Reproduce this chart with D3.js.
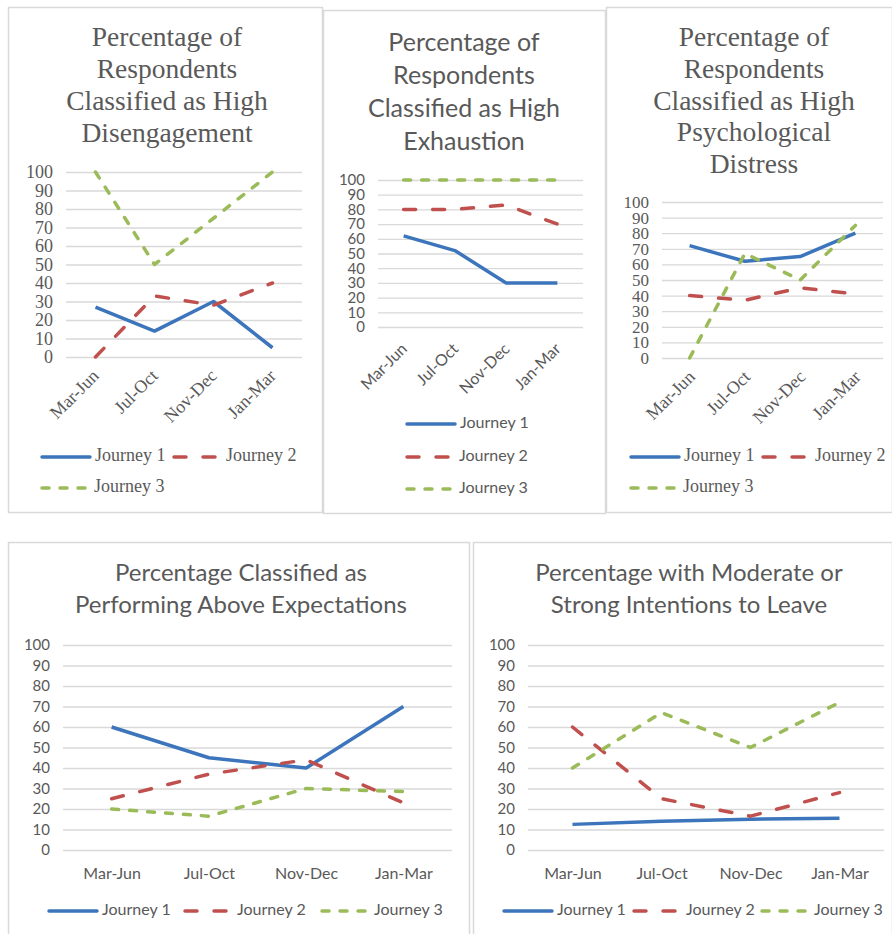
<!DOCTYPE html>
<html>
<head>
<meta charset="utf-8">
<script src="https://cdn.jsdelivr.net/npm/d3@7"></script>
<style>
  body { margin: 0; background: #fff; }
  svg { display: block; }
</style>
</head>
<body>
<div id="chart"></div>
<script>
// categories and series
var periods = ["Mar-Jun", "Jul-Oct", "Nov-Dec", "Jan-Mar"];
var seriesNames = ["Journey 1", "Journey 2", "Journey 3"];
var yTicks = [0, 10, 20, 30, 40, 50, 60, 70, 80, 90, 100];

// values per series (Journey 1, 2, 3)
var disengagement = [[27, 14, 30, 5], [0, 33, 28, 40], [100, 50, 75, 100]];
var exhaustion = [[62, 52, 30, 30], [80, 80, 83, 70], [100, 100, 100, 100]];
var distress = [[72, 62, 65, 80], [40, 37, 45, 41], [0, 67, 50, 85]];
var aboveExpect = [[60, 45, 40, 70], [25, 37, 44, 23], [20, 16.5, 30, 28.5]];
var intentLeave = [[12.5, 14, 15, 15.5], [60, 25, 16.5, 28], [40, 67, 50, 72]];

var colors = ["#3C75BB", "#C0504D", "#9BBB59"];
var dashes = [null, "12,17", "7,11"];
var serif = "'Liberation Serif', serif";
var sans = "Lato, 'Open Sans', sans-serif";

var width = 892, height = 934;

var svg = d3.select("#chart").append("svg")
    .attr("width", width)
    .attr("height", height);

var panels = [
    {
        data: disengagement, font: serif,
        box: [8, 7, 314, 505],
        title: ["Percentage of", "Respondents", "Classified as High", "Disengagement"],
        titleX: 167, titleY: 40, titleSize: 27.5, titleStep: 32,
        plot: [66, 302, 357, 172], tickSize: 18, labelSize: 18,
        rotate: [-0.5, 15.5],
        legend: [[40, 457], [172, 457], [40, 488]]
    },
    {
        data: exhaustion, font: sans,
        box: [323, 10, 282, 503],
        title: ["Percentage of", "Respondents", "Classified as High", "Exhaustion"],
        titleX: 464, titleY: 45, titleSize: 25, titleStep: 33,
        plot: [378, 583, 327, 180], tickSize: 15, labelSize: 16,
        rotate: [0, 19],
        legend: [[405, 424], [405, 457], [405, 489]]
    },
    {
        data: distress, font: serif,
        box: [606, 7, 286, 505],
        title: ["Percentage of", "Respondents", "Classified as High", "Psychological", "Distress"],
        titleX: 754, titleY: 40, titleSize: 27.5, titleStep: 31.7,
        plot: [662, 883, 358, 202], tickSize: 17, labelSize: 18,
        rotate: [1.5, 15.5],
        legend: [[629, 457], [761, 457], [629, 488]]
    },
    {
        data: aboveExpect, font: sans,
        box: [8, 542, 461, 400],
        title: ["Percentage Classified as", "Performing Above Expectations"],
        titleX: 241, titleY: 575, titleSize: 24, titleStep: 32,
        plot: [63, 452, 850, 645], tickSize: 15, labelSize: 16,
        rotate: null,
        legend: [[47, 911], [183, 911], [320, 911]]
    },
    {
        data: intentLeave, font: sans,
        box: [473, 542, 419, 400],
        title: ["Percentage with Moderate or", "Strong Intentions to Leave"],
        titleX: 689, titleY: 575, titleSize: 24, titleStep: 32,
        plot: [528, 884, 850, 645], tickSize: 15, labelSize: 16,
        rotate: null,
        legend: [[502, 911], [632, 911], [760, 911]]
    }
];

panels.forEach(drawPanel);

function drawPanel(p) {
    var g = svg.append("g");

    // panel frame
    g.append("rect")
        .attr("x", p.box[0] + 0.5)
        .attr("y", p.box[1] + 0.5)
        .attr("width", p.box[2])
        .attr("height", p.box[3])
        .attr("fill", "#fff")
        .attr("stroke", "#D9D9D9")
        .attr("stroke-width", 1.5);

    // title
    g.selectAll(".title")
        .data(p.title)
        .enter()
        .append("text")
        .attr("class", "title")
        .attr("x", p.titleX)
        .attr("y", function (d, i) { return p.titleY + i * p.titleStep; })
        .attr("text-anchor", "middle")
        .attr("dominant-baseline", "middle")
        .style("font-family", p.font)
        .style("font-size", p.titleSize + "px")
        .style("fill", "#595959")
        .text(function (d) { return d; });

    var x = d3.scalePoint()
        .domain(periods)
        .range([p.plot[0], p.plot[1]])
        .padding(0.5);

    var y = d3.scaleLinear()
        .domain([0, 100])
        .range([p.plot[2], p.plot[3]]);

    // gridlines + y labels
    var yAxis = g.append("g")
        .attr("transform", "translate(" + p.plot[0] + ",0)")
        .call(d3.axisLeft(y)
            .tickValues(yTicks)
            .tickSize(-(p.plot[1] - p.plot[0]))
            .tickPadding(13));

    yAxis.select(".domain").remove();
    yAxis.selectAll("line")
        .attr("stroke", "#D9D9D9")
        .attr("stroke-width", 1.3);
    yAxis.selectAll("text")
        .style("font-family", p.font)
        .style("font-size", p.tickSize + "px")
        .style("fill", "#595959");

    // x labels
    var xAxis = g.append("g")
        .attr("transform", "translate(0," + p.plot[2] + ")")
        .call(d3.axisBottom(x).tickSize(0).tickPadding(18));

    xAxis.select(".domain").remove();
    var xl = xAxis.selectAll("text")
        .style("font-family", p.font)
        .style("font-size", p.labelSize + "px")
        .style("fill", "#595959");

    if (p.rotate) {
        xl.attr("text-anchor", "end")
            .attr("y", 0)
            .attr("dy", "0.35em")
            .attr("transform", "translate(" + p.rotate[0] + "," + p.rotate[1] + ") rotate(-45)");
    }

    // series lines
    var line = d3.line()
        .x(function (d, i) { return x(periods[i]); })
        .y(function (d) { return y(d); });

    p.data.forEach(function (vals, s) {
        g.append("path")
            .datum(vals)
            .attr("d", line)
            .attr("fill", "none")
            .attr("stroke", colors[s])
            .attr("stroke-width", 3.5)
            .attr("stroke-linecap", s === 0 ? "butt" : "round")
            .attr("stroke-linejoin", "round")
            .attr("stroke-dasharray", dashes[s]);
    });

    // legend
    var leg = g.selectAll(".legend")
        .data(seriesNames)
        .enter()
        .append("g")
        .attr("class", "legend")
        .attr("transform", function (d, i) {
            return "translate(" + p.legend[i][0] + "," + p.legend[i][1] + ")";
        });

    leg.append("line")
        .attr("x1", 2)
        .attr("x2", function (d, i) { return i === 0 ? 50 : 46; })
        .attr("y1", 0)
        .attr("y2", 0)
        .attr("stroke", function (d, i) { return colors[i]; })
        .attr("stroke-width", 3.5)
        .attr("stroke-linecap", "round")
        .attr("stroke-dasharray", function (d, i) { return dashes[i]; });

    leg.append("text")
        .attr("x", function (d, i) { return i === 0 ? 55 : 54; })
        .attr("y", 0)
        .attr("dominant-baseline", "middle")
        .style("font-family", p.font)
        .style("font-size", p.labelSize + "px")
        .style("fill", "#595959")
        .text(function (d) { return d; });
}
</script>
</body>
</html>
